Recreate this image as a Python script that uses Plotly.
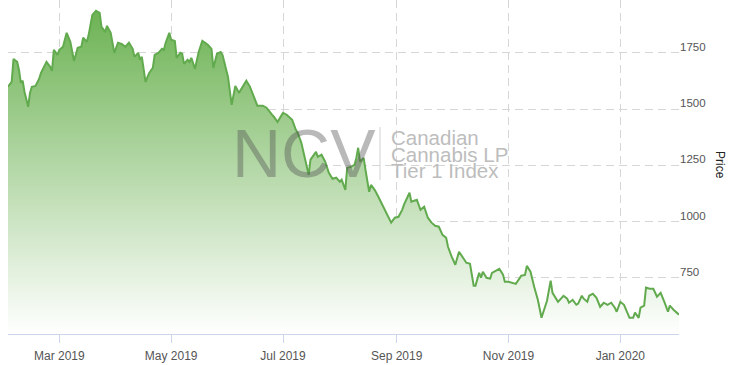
import plotly.graph_objects as go

dates = [
    "2019-02-01", "2019-02-03", "2019-02-04", "2019-02-06", "2019-02-07", "2019-02-08", "2019-02-09",
    "2019-02-10", "2019-02-12", "2019-02-13", "2019-02-14", "2019-02-16", "2019-02-18", "2019-02-19",
    "2019-02-22", "2019-02-24", "2019-02-25", "2019-02-26", "2019-02-28",
    "2019-03-01", "2019-03-03", "2019-03-05", "2019-03-07", "2019-03-09", "2019-03-11", "2019-03-13",
    "2019-03-14", "2019-03-16", "2019-03-17", "2019-03-19", "2019-03-21", "2019-03-23", "2019-03-24",
    "2019-03-26", "2019-03-27", "2019-03-29", "2019-03-31",
    "2019-04-02", "2019-04-04", "2019-04-06", "2019-04-08", "2019-04-10", "2019-04-11", "2019-04-13",
    "2019-04-14", "2019-04-15", "2019-04-17", "2019-04-19", "2019-04-21", "2019-04-22", "2019-04-24",
    "2019-04-26", "2019-04-27", "2019-04-28", "2019-04-30",
    "2019-05-01", "2019-05-03", "2019-05-04", "2019-05-06", "2019-05-07", "2019-05-08", "2019-05-10",
    "2019-05-11", "2019-05-12", "2019-05-14", "2019-05-16", "2019-05-18", "2019-05-21", "2019-05-23",
    "2019-05-24", "2019-05-26", "2019-05-28", "2019-05-29", "2019-05-31",
    "2019-06-01", "2019-06-03", "2019-06-05", "2019-06-07", "2019-06-11", "2019-06-13", "2019-06-15",
    "2019-06-17", "2019-06-20", "2019-06-22", "2019-06-25", "2019-06-26", "2019-06-28",
    "2019-07-01", "2019-07-03", "2019-07-06", "2019-07-08", "2019-07-09", "2019-07-11", "2019-07-13",
    "2019-07-15", "2019-07-16", "2019-07-19", "2019-07-20", "2019-07-22", "2019-07-24", "2019-07-26",
    "2019-07-28", "2019-07-30",
    "2019-08-01", "2019-08-02", "2019-08-04", "2019-08-05", "2019-08-07", "2019-08-09", "2019-08-10",
    "2019-08-11", "2019-08-12", "2019-08-14", "2019-08-15", "2019-08-17", "2019-08-18", "2019-08-20",
    "2019-08-22", "2019-08-24", "2019-08-26", "2019-08-29", "2019-08-31",
    "2019-09-02", "2019-09-04", "2019-09-05", "2019-09-08", "2019-09-09", "2019-09-12", "2019-09-14",
    "2019-09-16", "2019-09-18", "2019-09-20", "2019-09-22", "2019-09-24", "2019-09-26", "2019-09-28",
    "2019-09-29",
    "2019-10-01", "2019-10-03", "2019-10-05", "2019-10-07", "2019-10-09", "2019-10-11", "2019-10-13",
    "2019-10-14", "2019-10-16", "2019-10-17", "2019-10-18", "2019-10-20", "2019-10-22", "2019-10-23",
    "2019-10-25", "2019-10-27", "2019-10-29", "2019-10-30",
    "2019-11-01", "2019-11-03", "2019-11-04", "2019-11-05", "2019-11-08", "2019-11-10", "2019-11-11",
    "2019-11-13", "2019-11-15", "2019-11-17", "2019-11-19", "2019-11-22", "2019-11-24", "2019-11-25",
    "2019-11-28", "2019-11-30",
    "2019-12-01", "2019-12-03", "2019-12-04", "2019-12-06", "2019-12-08", "2019-12-09", "2019-12-11",
    "2019-12-12", "2019-12-14", "2019-12-15", "2019-12-17", "2019-12-19", "2019-12-21", "2019-12-23",
    "2019-12-25", "2019-12-27", "2019-12-29", "2019-12-30",
    "2020-01-01", "2020-01-03", "2020-01-04", "2020-01-06", "2020-01-08", "2020-01-09", "2020-01-11",
    "2020-01-12", "2020-01-14", "2020-01-15", "2020-01-17", "2020-01-19", "2020-01-21", "2020-01-23",
    "2020-01-25", "2020-01-27", "2020-01-28", "2020-01-30", "2020-02-02",
]

prices = [
    1600, 1621, 1723, 1710, 1674, 1617, 1626,
    1577, 1510, 1572, 1599, 1603, 1635, 1661,
    1710, 1688, 1670, 1763, 1741,
    1763, 1777, 1839, 1799, 1714, 1772, 1777,
    1817, 1799, 1830, 1919, 1937, 1928, 1866,
    1843, 1870, 1839, 1750,
    1795, 1790, 1777, 1795, 1768, 1732, 1750,
    1719, 1732, 1621, 1661, 1683, 1741, 1750,
    1768, 1763, 1795, 1839,
    1808, 1803, 1728, 1750, 1746, 1701, 1719,
    1710, 1728, 1679, 1754, 1803, 1786, 1768,
    1683, 1746, 1754, 1741, 1674,
    1643, 1519, 1603, 1572, 1626, 1599, 1555,
    1515, 1515, 1506, 1475, 1466, 1443,
    1483, 1475, 1452, 1408, 1395, 1350, 1275,
    1208, 1275, 1310, 1288, 1297, 1266, 1217,
    1190, 1195,
    1177, 1186, 1141, 1239, 1243, 1252, 1283,
    1328, 1266, 1283, 1230, 1132, 1163, 1141,
    1110, 1075, 1043, 995, 1017,
    1021, 1052, 1075, 1128, 1088, 1097, 1052,
    1066, 1017, 995, 981, 977, 941, 928,
    888,
    844, 808, 866, 839, 817, 812, 715,
    715, 772, 750, 777, 750, 746, 772,
    781, 790, 764, 732,
    732, 728, 728, 723, 759, 763, 803,
    777, 710, 652, 572, 648, 737, 683,
    643, 661,
    670, 657, 639, 652, 630, 635, 670,
    657, 643, 670, 679, 661, 621, 639,
    630, 639, 617, 599,
    643, 630, 608, 572, 572, 595, 572,
    617, 626, 706, 701, 701, 666, 683,
    643, 599, 626, 608, 586,
]

y_ticks = [750, 1000, 1250, 1500, 1750]
y_range = [500, 1985]
watermark_big = "NCV"
watermark_lines = ["Canadian", "Cannabis LP", "Tier 1 Index"]
y_title = "Price"

fig = go.Figure()
fig.add_trace(go.Scatter(
    x=dates, y=prices, mode="lines",
    line=dict(color="#62aa4e", width=2),
    fill="tozeroy",
    fillgradient=dict(
        type="vertical",
        start=y_range[0], stop=y_range[1],
        colorscale=[[0, "rgba(255,255,255,1)"], [1, "rgba(104,176,78,1)"]],
    ),
    hoverinfo="skip",
    showlegend=False,
))

grid_color = "#d6d6d6"
font_family = "Liberation Sans, Arial, sans-serif"

fig.update_layout(
    width=735, height=365,
    margin=dict(l=8, r=56, t=0, b=31),
    paper_bgcolor="white", plot_bgcolor="white",
    font=dict(family=font_family, color="#555555", size=12),
    xaxis=dict(
        type="date",
        range=[dates[0], dates[-1]],
        tick0="2019-03-01", dtick="M2", tickformat="%b %Y",
        showgrid=True, gridcolor=grid_color, griddash="8px,5px", gridwidth=1,
        showline=True, linecolor="#ccd6eb", linewidth=1,
        ticks="outside", ticklen=8, tickcolor="#ccd6eb",
        tickfont=dict(size=12, color="#555555"),
        ticklabelstandoff=3,
        zeroline=False,
    ),
    yaxis=dict(
        side="right",
        range=y_range,
        tickvals=y_ticks,
        showgrid=True, gridcolor=grid_color, griddash="8px,5px", gridwidth=1,
        showline=False, zeroline=False, ticks="",
        tickfont=dict(size=11.5, color="#555555"),
        ticklabelshift=-6,
    ),
)

fig.add_annotation(
    xref="paper", yref="paper", x=(720 - 8) / 671, y=(365 - 31 - 165) / 334,
    text=y_title, textangle=90, showarrow=False,
    font=dict(size=12, color="#222222", family=font_family),
    xanchor="center", yanchor="middle",
)

# watermark
fig.add_annotation(
    xref="paper", yref="paper", x=(230 - 8) / 671, y=(334 - 153) / 334,
    text=watermark_big, showarrow=False, xanchor="left", yanchor="middle",
    font=dict(size=68, color="rgba(80,80,80,0.4)", family=font_family),
)
fig.add_shape(
    type="line", xref="paper", yref="paper",
    x0=(380 - 8) / 671, x1=(380 - 8) / 671,
    y0=(334 - 127) / 334, y1=(334 - 180) / 334,
    line=dict(color="#d2d2d2", width=1),
)
for i, line_text in enumerate(watermark_lines):
    fig.add_annotation(
        xref="paper", yref="paper", x=(389 - 8) / 671, y=(334 - (137.5 + 16.7 * i)) / 334,
        text=line_text, showarrow=False, xanchor="left", yanchor="middle",
        font=dict(size=20.5, color="#bdbdbd", family=font_family),
    )

fig.write_html("out.html")
